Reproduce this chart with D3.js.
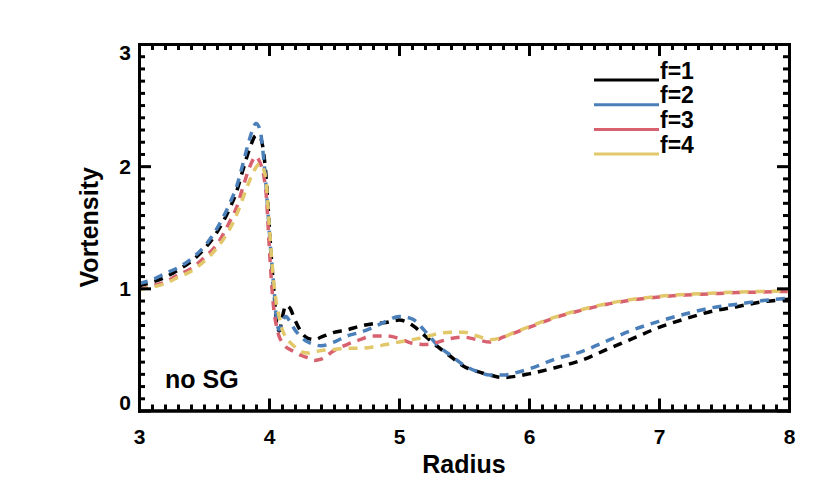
<!DOCTYPE html>
<html>
<head>
<meta charset="utf-8">
<script src="https://cdn.jsdelivr.net/npm/d3@7"></script>
<style>
  html, body { margin: 0; padding: 0; background: #fff; }
  svg text { font-family: "Liberation Sans", Arial, Helvetica, sans-serif; font-weight: bold; fill: #000; }
</style>
</head>
<body>
<svg id="chart" width="830" height="499"></svg>
<script>
// ---- data ----
const radius = [3.0, 3.1, 3.2, 3.3, 3.4, 3.5, 3.6, 3.7, 3.75, 3.8, 3.85, 3.9, 3.93, 3.96, 3.98,
  4.0, 4.02, 4.04, 4.06, 4.08, 4.1, 4.13, 4.16, 4.2, 4.25, 4.3, 4.35, 4.4, 4.5, 4.6, 4.7, 4.8, 4.9,
  5.0, 5.1, 5.2, 5.3, 5.4, 5.5, 5.6, 5.7, 5.8, 5.9, 6.0, 6.2, 6.4, 6.6, 6.8, 7.0, 7.2, 7.4, 7.6, 7.8, 8.0];

const vortF1 = [1.02, 1.05, 1.09, 1.15, 1.22, 1.32, 1.46, 1.66, 1.79, 1.97, 2.14, 2.25, 2.24, 2.10, 1.88,
  1.55, 1.22, 0.95, 0.70, 0.65, 0.75, 0.86, 0.84, 0.74, 0.64, 0.59, 0.58, 0.60, 0.64, 0.66, 0.69, 0.71, 0.72,
  0.74, 0.70, 0.61, 0.52, 0.44, 0.36, 0.32, 0.29, 0.27, 0.28, 0.30, 0.35, 0.41, 0.50, 0.59, 0.68, 0.75, 0.81, 0.85, 0.89, 0.91];

const vortF2 = [1.04, 1.07, 1.12, 1.17, 1.24, 1.34, 1.49, 1.70, 1.83, 2.02, 2.22, 2.35, 2.30, 2.05, 1.80,
  1.50, 1.22, 0.98, 0.72, 0.66, 0.72, 0.77, 0.73, 0.66, 0.60, 0.56, 0.54, 0.53, 0.56, 0.61, 0.64, 0.68, 0.73,
  0.77, 0.75, 0.65, 0.53, 0.45, 0.37, 0.32, 0.29, 0.29, 0.31, 0.34, 0.42, 0.48, 0.57, 0.66, 0.73, 0.79, 0.84, 0.87, 0.90, 0.92];

const vortF3 = [0.99, 1.02, 1.05, 1.11, 1.16, 1.25, 1.36, 1.55, 1.66, 1.83, 1.99, 2.08, 2.03, 1.92, 1.75,
  1.38, 1.04, 0.80, 0.68, 0.60, 0.56, 0.52, 0.50, 0.48, 0.45, 0.43, 0.41, 0.42, 0.49, 0.54, 0.58, 0.61, 0.61,
  0.59, 0.55, 0.54, 0.56, 0.59, 0.60, 0.58, 0.56, 0.60, 0.64, 0.68, 0.76, 0.82, 0.87, 0.905, 0.93, 0.945, 0.955, 0.965, 0.97, 0.975];

const vortF4 = [0.99, 1.01, 1.04, 1.09, 1.14, 1.22, 1.33, 1.49, 1.60, 1.74, 1.88, 1.99, 2.02, 1.97, 1.85,
  1.55, 1.25, 1.02, 0.86, 0.76, 0.67, 0.60, 0.56, 0.52, 0.48, 0.47, 0.48, 0.49, 0.50, 0.51, 0.51, 0.52, 0.54,
  0.56, 0.58, 0.60, 0.63, 0.64, 0.64, 0.61, 0.58, 0.60, 0.645, 0.685, 0.765, 0.825, 0.875, 0.91, 0.935, 0.95, 0.96, 0.97, 0.975, 0.98];

const seriesNames = ["f=1", "f=2", "f=3", "f=4"];
const seriesColors = ["#000000", "#4a7fba", "#d8616f", "#e2c86a"];
const xTickValues = [3, 4, 5, 6, 7, 8];
const yTickValues = [0, 1, 2, 3];
const xTitle = "Radius";
const yTitle = "Vortensity";
const annotation = "no SG";

// ---- layout ----
const svg = d3.select("#chart");
const plot = { left: 139, right: 789, top: 44, bottom: 410.5 };
const x = d3.scaleLinear().domain([3, 8]).range([plot.left, plot.right]);
const y = d3.scaleLinear().domain([0, 3]).range([plot.bottom, plot.top]);

const xMinor = d3.range(30, 81).map(d => d / 10).filter(d => !xTickValues.includes(d));
const yMinor = d3.range(0, 31).map(d => d / 10).filter(d => !yTickValues.includes(d));

// ---- curves ----
const allSeries = [vortF1, vortF2, vortF3, vortF4];
const line = d3.line().x(d => x(d[0])).y(d => y(d[1])).curve(d3.curveMonotoneX);
const gLines = svg.append("g");
allSeries.forEach((vals, i) => {
  gLines.append("path")
    .datum(radius.map((r, j) => [r, vals[j]]))
    .attr("d", line)
    .attr("fill", "none")
    .attr("stroke", seriesColors[i])
    .attr("stroke-width", 3.5)
    .attr("stroke-dasharray", "9,7");
});

// ---- axes ----
function styleAxis(g) {
  g.selectAll("path.domain").attr("stroke", "#000").attr("stroke-width", 3).attr("stroke-linecap", "square");
  g.selectAll(".tick line").attr("stroke", "#000").attr("stroke-width", 3);
  g.selectAll("text").attr("fill", "#000").style("font-size", "21px").style("font-weight", "bold")
    .style("font-family", "'Liberation Sans', Arial, Helvetica, sans-serif");
}

const MAJ = 12, MIN = 6;
// bottom
svg.append("g").attr("transform", `translate(0,${plot.bottom})`)
  .call(d3.axisBottom(x).tickValues(xMinor).tickSize(-MIN).tickSizeOuter(0).tickFormat(""))
  .call(styleAxis);
svg.append("g").attr("transform", `translate(0,${plot.bottom})`)
  .call(d3.axisBottom(x).tickValues(xTickValues).tickSize(-MAJ).tickSizeOuter(0).tickPadding(19).tickFormat(d3.format("d")))
  .call(styleAxis);
// top
svg.append("g").attr("transform", `translate(0,${plot.top})`)
  .call(d3.axisTop(x).tickValues(xMinor).tickSize(-MIN).tickSizeOuter(0).tickFormat(""))
  .call(styleAxis);
svg.append("g").attr("transform", `translate(0,${plot.top})`)
  .call(d3.axisTop(x).tickValues(xTickValues).tickSize(-MAJ).tickSizeOuter(0).tickFormat(""))
  .call(styleAxis);
// left
svg.append("g").attr("transform", `translate(${plot.left},0)`)
  .call(d3.axisLeft(y).tickValues(yMinor).tickSize(-MIN).tickSizeOuter(0).tickFormat(""))
  .call(styleAxis);
const gyL = svg.append("g").attr("transform", `translate(${plot.left},0)`)
  .call(d3.axisLeft(y).tickValues(yTickValues).tickSize(-MAJ).tickSizeOuter(0).tickPadding(8).tickFormat(d3.format("d")))
  .call(styleAxis);
// keep end labels inside the frame, as in the reference
gyL.selectAll(".tick text").attr("dy", d => d === 3 ? "0.72em" : (d === 0 ? "-0.05em" : "0.36em"));
// right
svg.append("g").attr("transform", `translate(${plot.right},0)`)
  .call(d3.axisRight(y).tickValues(yMinor).tickSize(-MIN).tickSizeOuter(0).tickFormat(""))
  .call(styleAxis);
svg.append("g").attr("transform", `translate(${plot.right},0)`)
  .call(d3.axisRight(y).tickValues(yTickValues).tickSize(-MAJ).tickSizeOuter(0).tickFormat(""))
  .call(styleAxis);

// ---- titles ----
svg.append("text")
  .attr("x", (plot.left + plot.right) / 2).attr("y", 473)
  .attr("text-anchor", "middle").style("font-size", "25px")
  .text(xTitle);
svg.append("text")
  .attr("transform", `translate(98,${(plot.top + plot.bottom) / 2}) rotate(-90)`)
  .attr("text-anchor", "middle").style("font-size", "25px")
  .text(yTitle);

svg.append("text")
  .attr("x", x(3.2)).attr("y", 388)
  .style("font-size", "25px")
  .text(annotation);

// ---- legend ----
const legend = svg.append("g");
const lgX0 = 594, lgX1 = 659, lgY0 = 80, lgStep = 24.7;
seriesNames.forEach((name, i) => {
  const yy = lgY0 + i * lgStep;
  legend.append("line")
    .attr("x1", lgX0).attr("x2", lgX1).attr("y1", yy).attr("y2", yy)
    .attr("stroke", seriesColors[i]).attr("stroke-width", 3);
  legend.append("text")
    .attr("x", lgX1 + 1).attr("y", yy - 1.5)
    .style("font-size", "23px")
    .text(name);
});
</script>
</body>
</html>
